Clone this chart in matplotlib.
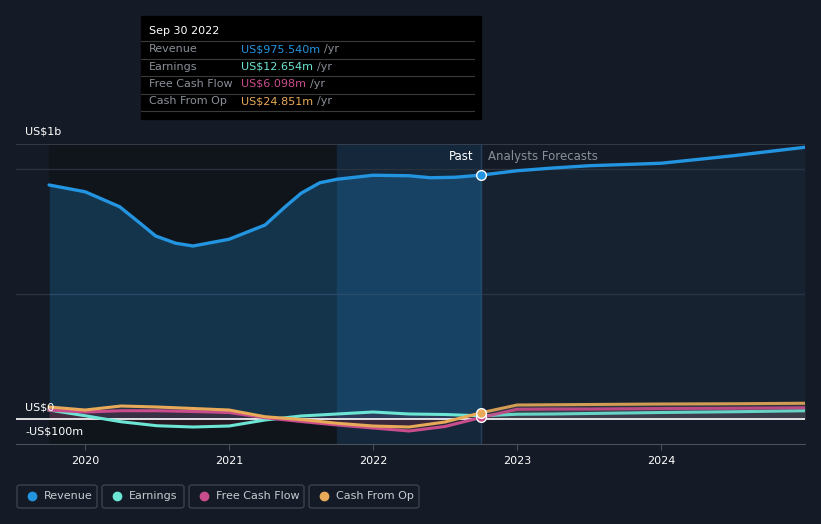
import matplotlib.pyplot as plt
from matplotlib.patches import Rectangle, FancyBboxPatch
import numpy as np

# donnees (millions US$)
rev_dates = [2019.75, 2020.0, 2020.24, 2020.38, 2020.49, 2020.63, 2020.75, 2021.0,
             2021.25, 2021.39, 2021.5, 2021.63, 2021.75, 2022.0, 2022.25, 2022.4,
             2022.57, 2022.75]
revenue_past = [936, 909, 849, 784, 732, 703, 692, 719, 776, 849, 903, 945, 959,
                975, 973, 965, 967, 975.54]

past_dates = [2019.75, 2020.0, 2020.25, 2020.5, 2020.75, 2021.0, 2021.25,
              2021.5, 2021.75, 2022.0, 2022.25, 2022.5, 2022.75]
earnings_past = [36, 13, -11, -27, -32, -28, -4, 12, 20, 28, 20, 18, 12.654]
fcf_past = [36, 28, 33, 33, 30, 26, 5, -10, -24, -36, -48, -30, 6.098]
cfo_past = [48, 36, 52, 48, 42, 36, 9, -2, -17, -28, -32, -12, 24.851]

fc_dates = [2022.75, 2023.0, 2023.25, 2023.5, 2024.0, 2024.5, 2025.0]
revenue_fc = [975.54, 993, 1004, 1013, 1023, 1053, 1087]
earnings_fc = [12.654, 19, 20, 22, 26, 29, 33]
fcf_fc = [6.098, 39, 40, 40, 42, 43, 45]
cfo_fc = [24.851, 56, 57, 58, 60, 61, 63]

years = [2020, 2021, 2022, 2023, 2024]
ylabels = {1000: "US$1b", 0: "US$0", -100: "-US$100m"}

bg = "#151b26"
c_rev = "#2394df"
c_earn = "#6ce5d4"
c_fcf = "#c94d8c"
c_cfo = "#e8aa58"

fig = plt.figure(figsize=(8.21, 5.24), dpi=100, facecolor=bg)
W, H = 821, 524
ax = fig.add_axes([16 / W, (H - 444) / H, (805 - 16) / W, (444 - 144) / H])
ax.set_facecolor(bg)
x0, x1 = 2019.52, 2025.0
ax.set_xlim(x0, x1)
ax.set_ylim(-100, 1100)

# zones de fond
ax.axvspan(2019.75, 2021.75, color="#10141b", zorder=0)
ax.axvspan(2021.75, 2022.75, color="#14304a", alpha=0.6, zorder=0)

# grille
for g in [500, 1000]:
    ax.axhline(g, color="#2b333f", lw=0.9, zorder=1)
ax.axhline(1100, color="#3a424e", lw=1.2, zorder=1)
ax.axvline(2022.75, color="#24405a", lw=1, zorder=1)

# revenu
ax.fill_between(rev_dates, revenue_past, 0, color=c_rev, alpha=0.25, lw=0, zorder=2)
ax.fill_between(fc_dates, revenue_fc, 0, color="#1f3a55", alpha=0.25, lw=0, zorder=2)
ax.plot(rev_dates, revenue_past, color=c_rev, lw=2.4, zorder=5, solid_capstyle="round",
        solid_joinstyle="round")
ax.plot(fc_dates, revenue_fc, color=c_rev, lw=2.4, zorder=5, solid_capstyle="round",
        solid_joinstyle="round")

# petites series
for d, v in [(past_dates, fcf_past), (past_dates, earnings_past), (past_dates, cfo_past)]:
    ax.fill_between(d, v, 0, color="#6b2a3c", alpha=0.25, lw=0, zorder=3)
for d, v in [(fc_dates, fcf_fc), (fc_dates, cfo_fc)]:
    ax.fill_between(d, v, 0, color="#55555f", alpha=0.35, lw=0, zorder=3)
for d, v, c in [(past_dates, earnings_past, c_earn), (past_dates, fcf_past, c_fcf),
                (past_dates, cfo_past, c_cfo)]:
    ax.plot(d, v, color=c, lw=2.2, zorder=6, solid_joinstyle="round")
for d, v, c in [(fc_dates, earnings_fc, c_earn), (fc_dates, fcf_fc, c_fcf),
                (fc_dates, cfo_fc, c_cfo)]:
    ax.plot(d, v, color=c, lw=2.2, zorder=6, alpha=0.9, solid_joinstyle="round")

ax.axhline(0, color="white", lw=1.2, zorder=4)

# marqueurs
ax.plot(2022.75, revenue_past[-1], "o", ms=7, mfc=c_rev, mec="white", mew=1, zorder=8)
ax.plot(2022.75, fcf_past[-1], "o", ms=7, mfc=c_fcf, mec="white", mew=1, zorder=8)
ax.plot(2022.75, cfo_past[-1], "o", ms=7, mfc=c_cfo, mec="white", mew=1, zorder=8)

ax.text(2022.70, 1050, "Past", color="white", fontsize=8.5, ha="right", va="center")
ax.text(2022.80, 1050, "Analysts Forecasts", color="#8a8f98", fontsize=8.5,
        ha="left", va="center")

# axes
for s in ["top", "right", "left"]:
    ax.spines[s].set_visible(False)
ax.spines["bottom"].set_color("#4a505a")
ax.set_xticks(years)
ax.set_xticklabels([str(y) for y in years], color="white", fontsize=8)
ax.tick_params(axis="x", colors="#4a505a", length=4, labelcolor="white", pad=5)
ax.set_yticks([])

fig.text(25 / W, 1 - 131 / H, ylabels[1000], color="white", fontsize=8, va="center")
fig.text(25 / W, 1 - 407 / H, ylabels[0], color="white", fontsize=8, va="center")
fig.text(25 / W, 1 - 432 / H, ylabels[-100], color="white", fontsize=8, va="center")

# info-bulle
fig.patches.append(Rectangle((141 / W, 1 - 119 / H), 340 / W, 103 / H,
                             transform=fig.transFigure, color="black", zorder=10))
fig.text(149 / W, 1 - 31 / H, "Sep 30 2022", color="white", fontsize=8, va="center",
         zorder=11)
rows = [("Revenue", "US$975.540m", c_rev), ("Earnings", "US$12.654m", c_earn),
        ("Free Cash Flow", "US$6.098m", c_fcf), ("Cash From Op", "US$24.851m", c_cfo)]
for i, (lab, val, c) in enumerate(rows):
    yy = 1 - (49 + i * 17.5) / H
    fig.text(149 / W, yy, lab, color="#8a8f98", fontsize=8, va="center", zorder=11)
    t = fig.text(241 / W, yy, val, color=c, fontsize=8, va="center", zorder=11)
    fig.canvas.draw()
    bb = t.get_window_extent()
    fig.text(bb.x1 / W + 4 / W, yy, "/yr", color="#8a8f98", fontsize=8, va="center",
             zorder=11)
for i in range(5):
    yl = 1 - (41 + i * 17.5) / H
    fig.add_artist(plt.Line2D([141 / W, 474 / W], [yl, yl], color="#3a3a3a", lw=0.8,
                              transform=fig.transFigure, zorder=11))

# legende
leg = [("Revenue", c_rev, 17, 97), ("Earnings", c_earn, 102, 184),
       ("Free Cash Flow", c_fcf, 189, 304), ("Cash From Op", c_cfo, 309, 419)]
for lab, c, xa, xb in leg:
    fig.patches.append(FancyBboxPatch((xa / W, 1 - 508 / H), (xb - xa) / W, 23 / H,
                                      boxstyle="round,pad=0,rounding_size=0.004",
                                      transform=fig.transFigure, fc=bg, ec="#3c424c",
                                      lw=1))
    fig.add_artist(plt.Line2D([(xa + 15) / W], [1 - 496 / H], marker="o", ms=6,
                              color=c, transform=fig.transFigure))
    fig.text((xa + 27) / W, 1 - 496 / H, lab, color="#c8ccd2", fontsize=8, va="center")

fig.savefig("out.png", dpi=100, facecolor=bg)
